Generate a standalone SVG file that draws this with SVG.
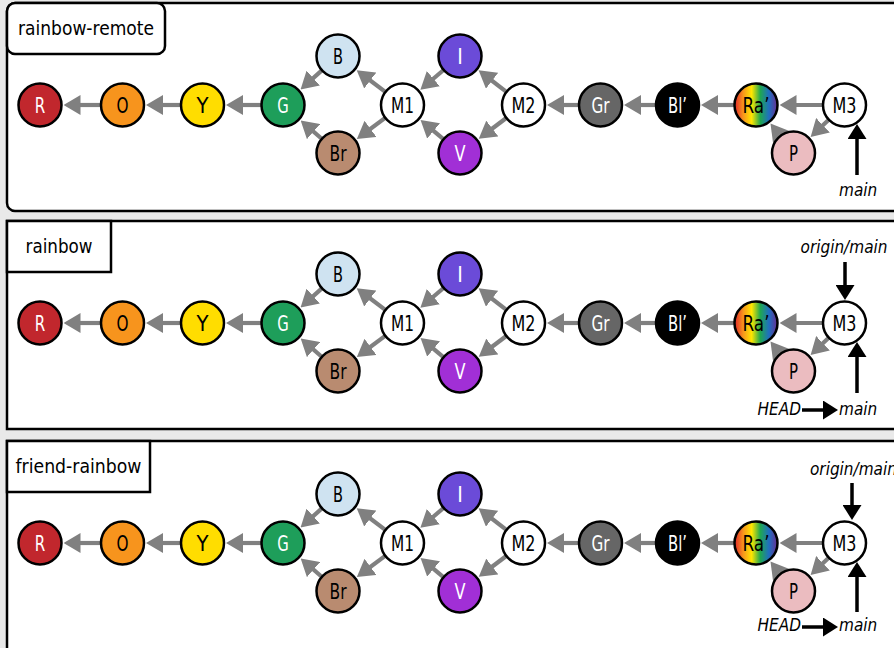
<svg xmlns="http://www.w3.org/2000/svg" width="894" height="648" viewBox="0 0 894 648">
<style>
text{font-family:"DejaVu Sans Condensed","Liberation Sans Narrow","Liberation Sans",sans-serif;}
.bg{fill:#e9e9e9;}
.panel{fill:#fff;stroke:#000;stroke-width:2.5;}
.lbl{font-size:19.5px;fill:#000;text-anchor:middle;}
.n circle{stroke:#000;stroke-width:2.5;}
.n text{font-size:21px;text-anchor:middle;}
.w{fill:#fff;}
.k{fill:#000;}
#edges line{stroke:#808080;stroke-width:4.2;marker-end:url(#ga);}
.r line{stroke:#000;stroke-width:3.5;marker-end:url(#ba);}
.ref{font-size:17px;font-style:italic;fill:#000;}
</style>
<defs>
<marker id="ga" markerUnits="userSpaceOnUse" viewBox="0 0 17 20" markerWidth="17" markerHeight="20" refX="7" refY="10" orient="auto"><path d="M0,0 L17,10 L0,20 z" fill="#808080"/></marker>
<marker id="ba" markerUnits="userSpaceOnUse" viewBox="0 0 15 19" markerWidth="15" markerHeight="19" refX="5" refY="9.5" orient="auto"><path d="M0,0 L15,9.5 L0,19 z" fill="#000"/></marker>
<linearGradient id="rb" x1="0" y1="0" x2="1" y2="0">
<stop offset="0" stop-color="#e3262b"/><stop offset="0.2" stop-color="#f7941d"/><stop offset="0.4" stop-color="#ffe600"/><stop offset="0.6" stop-color="#1fa84f"/><stop offset="0.8" stop-color="#1f6fc0"/><stop offset="1" stop-color="#6a2d91"/>
</linearGradient>
<g id="edges" stroke="#808080" stroke-width="4.2" marker-end="url(#ga)">
<line x1="100.5" y1="105" x2="73.5" y2="105"/>
<line x1="180.5" y1="105" x2="156" y2="105"/>
<line x1="261" y1="105" x2="236" y2="105"/>
<line x1="321.57" y1="70.63" x2="308.02" y2="82.72"/>
<line x1="321.43" y1="138.53" x2="308.23" y2="127.03"/>
<line x1="384.98" y1="91.69" x2="364.67" y2="76.27"/>
<line x1="384.85" y1="118.13" x2="364.87" y2="133"/>
<line x1="443.26" y1="70.27" x2="428" y2="83.27"/>
<line x1="443.11" y1="138.9" x2="428.22" y2="126.47"/>
<line x1="506.08" y1="91.56" x2="486.52" y2="76.47"/>
<line x1="505.95" y1="118.27" x2="486.73" y2="132.8"/>
<line x1="578.5" y1="105" x2="557" y2="105"/>
<line x1="655.5" y1="105" x2="634" y2="105"/>
<line x1="734" y1="105" x2="711" y2="105"/>
<line x1="822.5" y1="105" x2="789.5" y2="105"/>
<line x1="828.48" y1="120.08" x2="817.89" y2="130.05"/>
<line x1="781" y1="137" x2="776.63" y2="131.4"/>
</g>
<g id="nodes">
<g class="n"><circle cx="40" cy="105" r="21.5" fill="#c1272d"/><text x="40" y="112.5" class="w" textLength="10.5" lengthAdjust="spacingAndGlyphs">R</text></g>
<g class="n"><circle cx="122.5" cy="105" r="21.5" fill="#f7941d"/><text x="122.5" y="112.5" class="k" textLength="12" lengthAdjust="spacingAndGlyphs">O</text></g>
<g class="n"><circle cx="202.5" cy="105" r="21.5" fill="#ffdd00"/><text x="202.5" y="112.5" class="k" textLength="12" lengthAdjust="spacingAndGlyphs">Y</text></g>
<g class="n"><circle cx="283" cy="105" r="21.5" fill="#1e9e5a"/><text x="283" y="112.5" class="w" textLength="11.5" lengthAdjust="spacingAndGlyphs">G</text></g>
<g class="n"><circle cx="338" cy="56" r="21.5" fill="#cfe3f1"/><text x="338" y="63.5" class="k" textLength="10" lengthAdjust="spacingAndGlyphs">B</text></g>
<g class="n"><circle cx="338" cy="153" r="21.5" fill="#b98b70"/><text x="338" y="160.5" class="k" textLength="17" lengthAdjust="spacingAndGlyphs">Br</text></g>
<g class="n"><circle cx="402.5" cy="105" r="21.5" fill="#fff"/><text x="402.5" y="112.5" class="k" textLength="23" lengthAdjust="spacingAndGlyphs">M1</text></g>
<g class="n"><circle cx="460" cy="56" r="21.5" fill="#6b4bd8"/><text x="460" y="63.5" class="w">I</text></g>
<g class="n"><circle cx="460" cy="153" r="21.5" fill="#a12fd6"/><text x="460" y="160.5" class="w" textLength="11" lengthAdjust="spacingAndGlyphs">V</text></g>
<g class="n"><circle cx="523.5" cy="105" r="21.5" fill="#fff"/><text x="523.5" y="112.5" class="k" textLength="24" lengthAdjust="spacingAndGlyphs">M2</text></g>
<g class="n"><circle cx="600.5" cy="105" r="21.5" fill="#666"/><text x="600.5" y="112.5" class="w" textLength="18" lengthAdjust="spacingAndGlyphs">Gr</text></g>
<g class="n"><circle cx="677.5" cy="105" r="21.5" fill="#000"/><text x="677.5" y="112.5" class="w" textLength="19" lengthAdjust="spacingAndGlyphs">Bl’</text></g>
<g class="n"><circle cx="756" cy="105" r="21.5" fill="url(#rb)"/><text x="756" y="112.5" class="k" textLength="27" lengthAdjust="spacingAndGlyphs">Ra’</text></g>
<g class="n"><circle cx="844.5" cy="105" r="21.5" fill="#fff"/><text x="844.5" y="112.5" class="k" textLength="24" lengthAdjust="spacingAndGlyphs">M3</text></g>
<g class="n"><circle cx="793.5" cy="153" r="21.5" fill="#ebbcc0"/><text x="793.5" y="160.5" class="k" textLength="9" lengthAdjust="spacingAndGlyphs">P</text></g>
</g>
</defs>
<rect class="bg" x="0" y="0" width="894" height="648"/>

<g id="panel-rainbow-remote">
<rect class="panel" x="7" y="3" width="900" height="208" rx="8"/>
<rect class="panel" x="7" y="3" width="158" height="51" rx="8"/>
<text class="lbl" x="86" y="35" textLength="136" lengthAdjust="spacingAndGlyphs">rainbow-remote</text>
<g id="connectors-1"><use href="#edges"/></g>
<use href="#nodes"/>
<g class="r"><line x1="857" y1="175" x2="857" y2="134"/></g>
<text class="ref" x="839" y="196">main</text>
</g>

<g id="panel-rainbow" transform="translate(0,218)">
<rect class="panel" x="7" y="3" width="900" height="208"/>
<rect class="panel" x="7" y="3" width="104" height="51"/>
<text class="lbl" x="59" y="35" textLength="67" lengthAdjust="spacingAndGlyphs">rainbow</text>
<g id="connectors-2"><use href="#edges"/></g>
<use href="#nodes"/>
<g class="r">
<line x1="845" y1="44" x2="845" y2="72"/>
<line x1="857" y1="175" x2="857" y2="134"/>
<line x1="802" y1="192" x2="828" y2="192"/>
</g>
<text class="ref" x="844" y="35" text-anchor="middle">origin/main</text>
<text class="ref" x="839" y="197">main</text>
<text class="ref" x="801" y="197" text-anchor="end">HEAD</text>
</g>

<g id="panel-friend-rainbow" transform="translate(0,438)">
<rect class="panel" x="7" y="3" width="900" height="220"/>
<rect class="panel" x="7" y="3" width="143" height="51"/>
<text class="lbl" x="78.5" y="35" textLength="126" lengthAdjust="spacingAndGlyphs">friend-rainbow</text>
<g id="connectors-3"><use href="#edges"/></g>
<use href="#nodes"/>
<g class="r">
<line x1="852" y1="45" x2="852" y2="72"/>
<line x1="857" y1="174" x2="857" y2="134"/>
<line x1="802" y1="189" x2="828" y2="189"/>
</g>
<text class="ref" x="810" y="37">origin/main</text>
<text class="ref" x="839" y="193">main</text>
<text class="ref" x="801" y="193" text-anchor="end">HEAD</text>
</g>
</svg>
